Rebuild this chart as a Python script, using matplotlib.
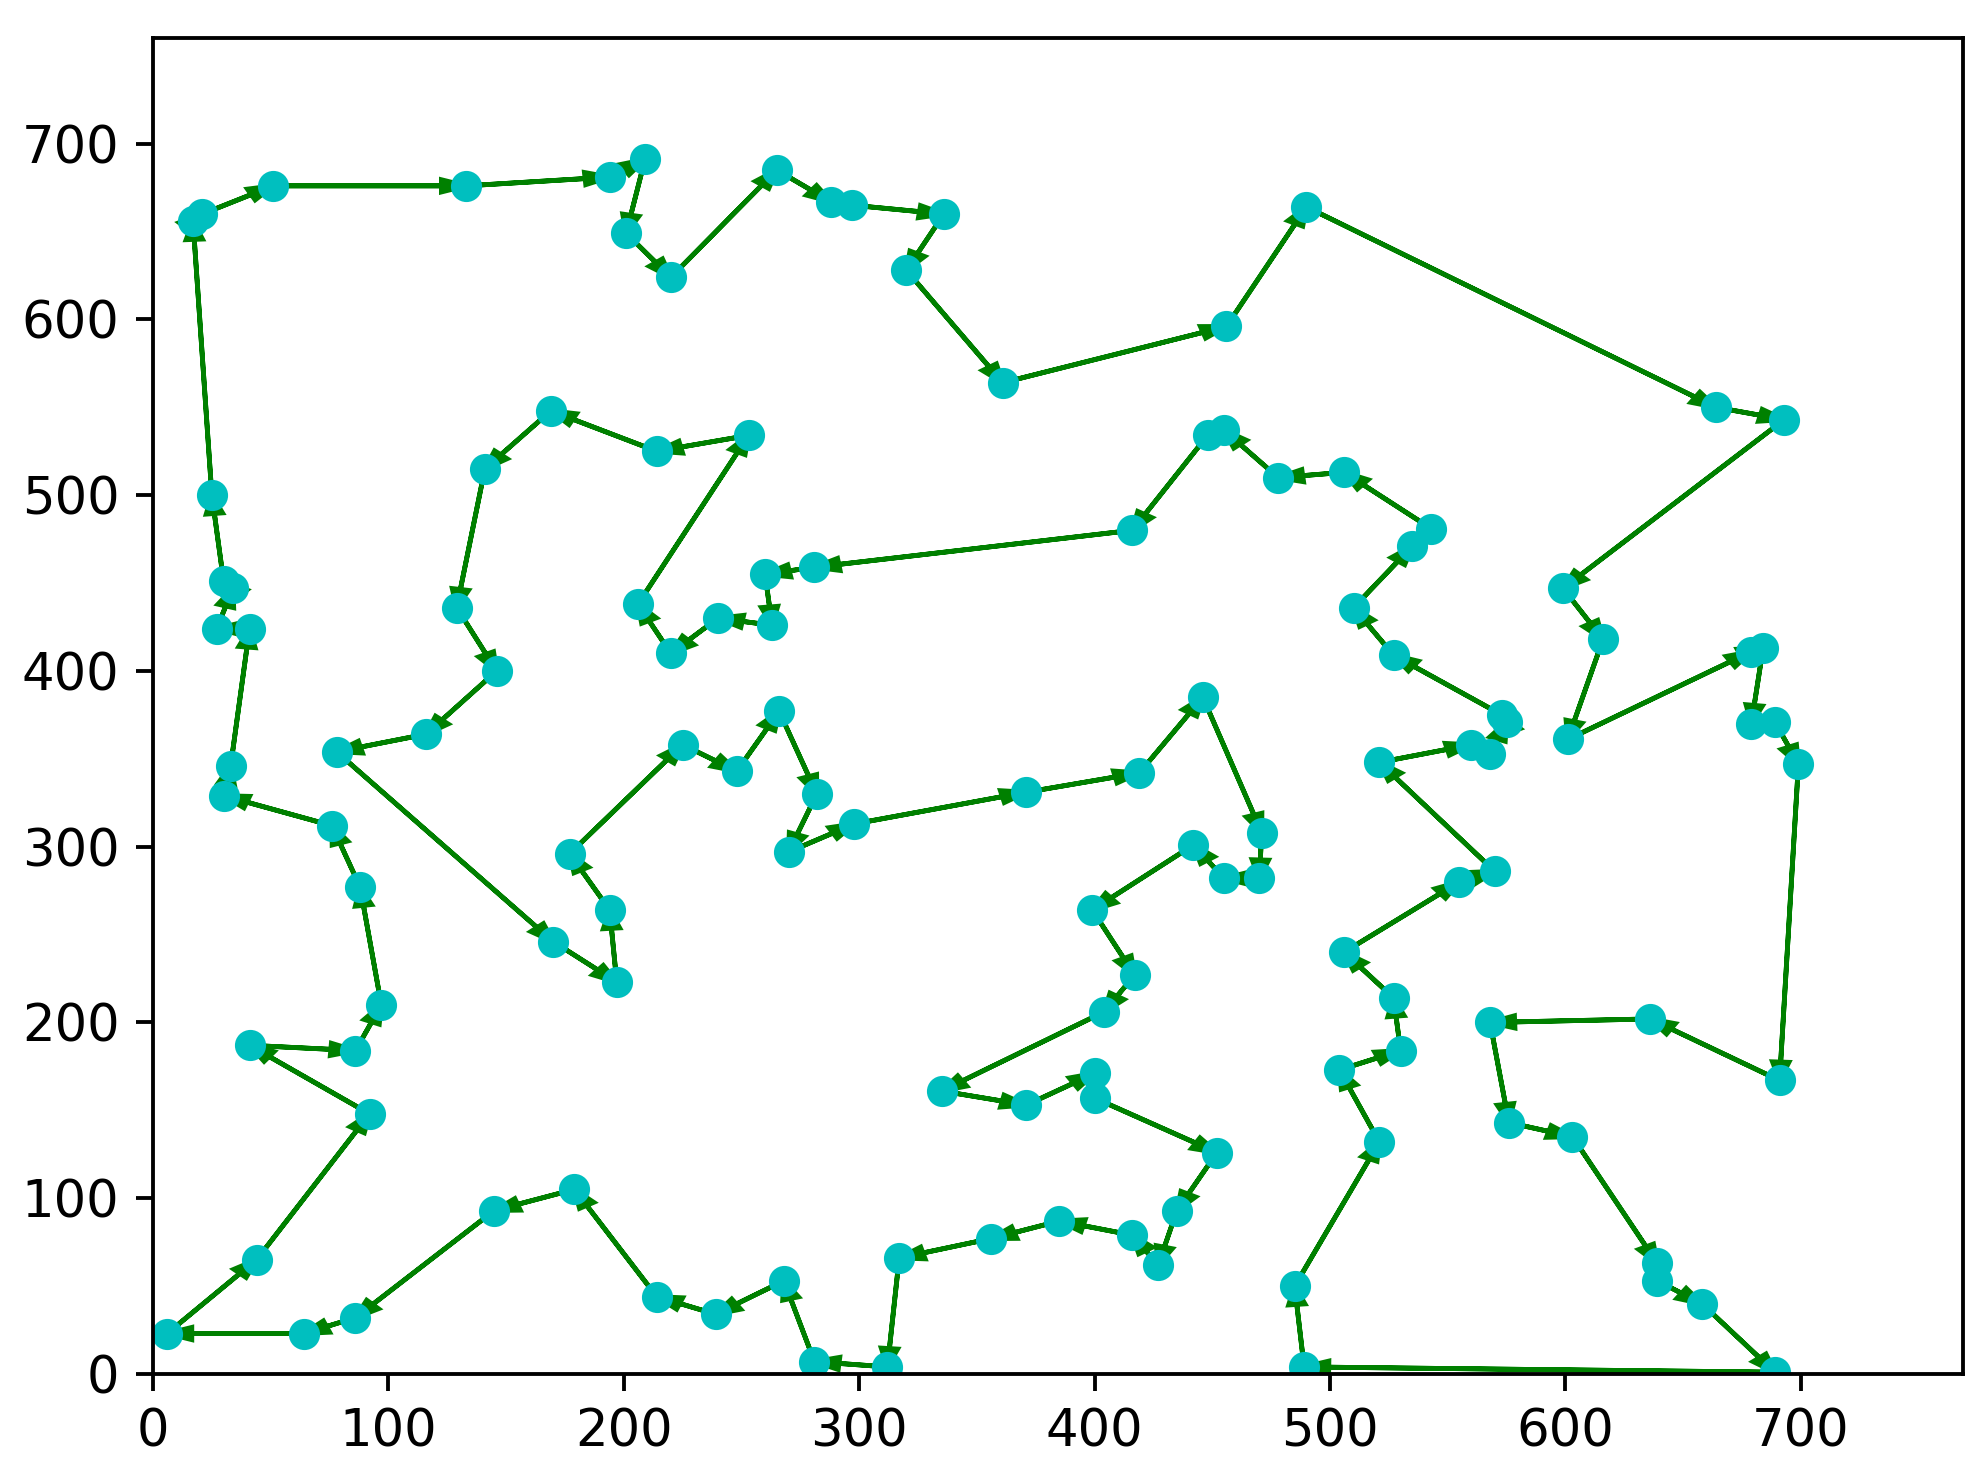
# TSP tour plot: cities in visiting order, arrows from one city to the next
import matplotlib
matplotlib.use('Agg')
import matplotlib.pyplot as plt

# city coordinates in tour order
x = [17, 21, 51, 133, 194, 209, 201, 220, 265, 288, 297, 336, 320, 361, 456, 490,
     664, 693, 599, 616, 601, 679, 684, 679, 689, 699, 691, 636, 568, 576, 603,
     639, 639, 658, 689, 489, 485, 521, 504, 530, 527, 506, 555, 570, 521, 560,
     568, 575, 573, 527, 510, 535, 543, 506, 478, 455, 448, 416, 281, 260, 263,
     240, 220, 206, 253, 214, 169, 141, 129, 146, 116, 78, 170, 197, 194, 177,
     225, 248, 266, 282, 270, 298, 371, 419, 446, 471, 470, 455, 442, 399, 417,
     404, 335, 371, 400, 400, 452, 435, 427, 416, 385, 356, 317, 312, 281, 268,
     239, 214, 179, 145, 86, 64, 6, 44, 92, 41, 86, 97, 88, 76, 30, 33, 41, 27,
     34, 30, 25]
y = [656, 660, 676, 676, 681, 691, 649, 624, 685, 667, 665, 660, 628, 564, 596, 664,
     550, 543, 447, 418, 361, 411, 413, 370, 371, 347, 167, 202, 200, 143, 135,
     63, 53, 40, 1, 4, 50, 132, 173, 184, 214, 240, 280, 286, 348, 358,
     353, 371, 375, 409, 436, 471, 481, 513, 510, 537, 534, 480, 459, 455, 426,
     430, 410, 438, 534, 525, 548, 515, 436, 400, 364, 354, 246, 223, 264, 296,
     358, 343, 377, 330, 297, 313, 331, 342, 385, 308, 282, 282, 301, 264, 227,
     206, 161, 153, 171, 157, 126, 93, 62, 79, 87, 77, 66, 4, 7, 53,
     34, 44, 105, 93, 32, 23, 23, 65, 148, 187, 184, 210, 277, 312, 329, 346, 424, 424,
     447, 451, 500]

dpi = 345
fig = plt.figure(figsize=(1987/dpi, 1469/dpi), dpi=dpi)
ax = fig.add_axes([0.077, 0.0647, 0.9109, 0.9094])

ax.plot(x, y, 'co', ms=5.5)

a_scale = float(max(x))/100.0
n = len(x)
for i in range(n):
    j = (i + 1) % n
    ax.arrow(x[i], y[i], x[j] - x[i], y[j] - y[i], head_width=a_scale,
             color='g', length_includes_head=True)

ax.set_xlim(0, max(x)*1.1)
ax.set_ylim(0, max(y)*1.1)
ax.tick_params(labelsize=10.7)

fig.savefig('out.png', dpi=dpi)
